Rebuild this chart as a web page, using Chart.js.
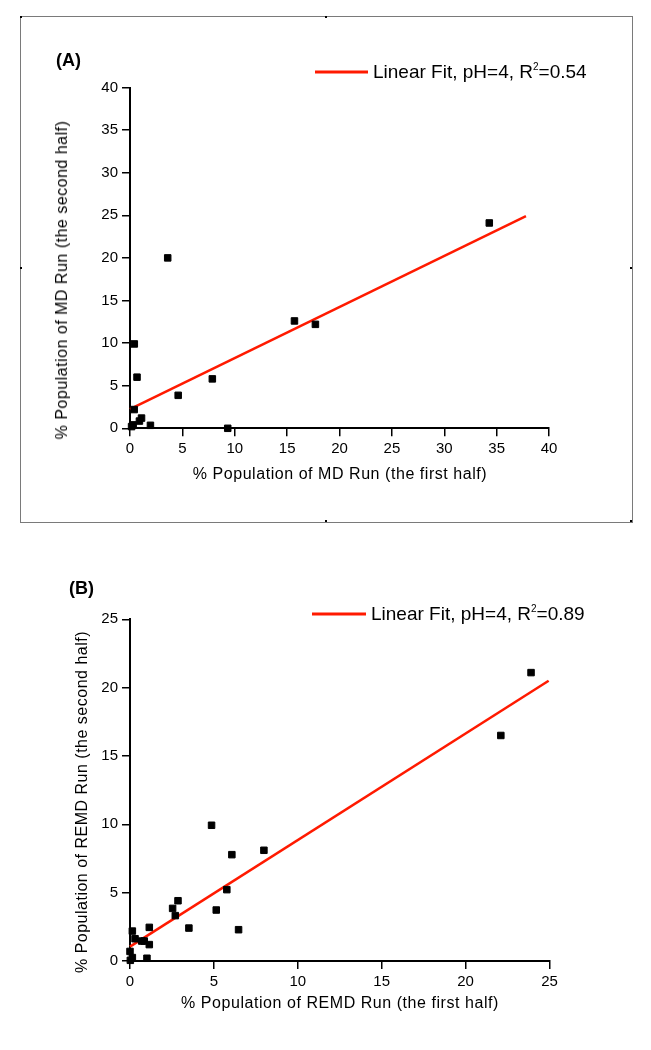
<!DOCTYPE html>
<html>
<head>
<meta charset="utf-8">
<script src="https://cdn.jsdelivr.net/npm/chart.js@4.4.1/dist/chart.umd.min.js"></script>
<style>
  html, body { margin: 0; padding: 0; background: #fff; }
  body { width: 651px; height: 1050px; position: relative; overflow: hidden; font-family: "Liberation Sans", Arial, sans-serif; color: #000; }
  .panel { position: absolute; left: 0; width: 651px; }
  canvas { position: absolute; left: 0; top: 0; }
  .lbl { position: absolute; white-space: nowrap; }
  .tag { font-weight: bold; font-size: 18px; transform: translateY(-50%); }
  .xt { font-size: 16px; letter-spacing: 0.55px; transform: translate(-50%, -50%); }
  .yt { font-size: 16px; letter-spacing: 0.5px; transform: translate(-50%, -50%) rotate(-90deg); }
  .leg { transform: translateY(-50%); font-family: "Liberation Sans Narrow", "Arial Narrow", sans-serif; font-size: 19px; }
  .leg sup { font-size: 10px; vertical-align: 8px; line-height: 0; }
  .legline { position: absolute; height: 3px; background: #ff1a00; transform: translateY(-50%); }
  .frame { position: absolute; left: 20px; top: 16px; width: 611px; height: 505px; border: 1px solid #7a7a7a; }
  .dot { position: absolute; width: 2px; height: 2px; background: #000; }
</style>
</head>
<body>

<div class="frame"></div>
<div class="dot" style="left:20px;top:16px"></div>
<div class="dot" style="left:630px;top:520px"></div>
<div class="dot" style="left:325px;top:16px"></div>
<div class="dot" style="left:325px;top:520px"></div>
<div class="dot" style="left:20px;top:267px"></div>
<div class="dot" style="left:630px;top:267px"></div>

<div class="panel" style="top:0;height:530px">
  <canvas id="chartA" width="651" height="530"></canvas>
</div>
<div class="panel" style="top:530px;height:520px">
  <canvas id="chartB" width="651" height="520"></canvas>
</div>

<div class="lbl tag" style="left:56px;top:60px">(A)</div>
<div class="legline" style="left:315px;top:72px;width:53px"></div>
<div class="lbl leg" style="left:373px;top:72px">Linear Fit, pH=4, R<sup>2</sup>=0.54</div>
<div class="lbl yt" style="left:62px;top:280px">% Population of MD Run (the second half)</div>
<div class="lbl xt" style="left:340px;top:474px">% Population of MD Run (the first half)</div>

<div class="lbl tag" style="left:69px;top:588px">(B)</div>
<div class="legline" style="left:312px;top:614px;width:54px"></div>
<div class="lbl leg" style="left:371px;top:614px">Linear Fit, pH=4, R<sup>2</sup>=0.89</div>
<div class="lbl yt" style="left:82px;top:802px">% Population of REMD Run (the second half)</div>
<div class="lbl xt" style="left:340px;top:1003px">% Population of REMD Run (the first half)</div>

<script>
// panel A: MD run, first half vs second half (%)
const mdFirst  = [0.15, 0.3, 0.4, 0.9, 1.1, 1.95, 0.41, 0.67, 3.6, 4.6, 7.86, 9.33, 15.7, 17.7, 34.3];
const mdSecond = [0.2, 0.4, 2.2, 0.85, 1.2, 0.35, 9.9, 6.0, 20.0, 3.87, 5.8, 0.0, 12.6, 12.2, 24.1];
const fitAX = [0, 37.8];
const fitAY = [2.26, 24.9];

// panel B: REMD run
const remdFirst  = [4.86, 6.07, 7.98, 5.77, 5.14, 6.47, 2.86, 2.54, 2.7, 3.51, 1.15, 1.15, 1.01, 0.14, 0.3, 0.7, 0.85, 0.14, 0.0, 0.02, 22.1, 23.9];
const remdSecond = [9.93, 7.78, 8.1, 5.22, 3.73, 2.29, 4.41, 3.85, 3.32, 2.41, 2.46, 1.2, 0.2, 2.19, 1.63, 1.46, 1.46, 0.25, 0.7, 0.05, 16.5, 21.1];
const fitBX = [0, 24.95];
const fitBY = [1.05, 20.5];

const ticksA = [0, 5, 10, 15, 20, 25, 30, 35, 40];
const ticksB = [0, 5, 10, 15, 20, 25];

function pts(xs, ys) {
  return xs.map((x, i) => ({ x: x, y: ys[i] }));
}

function axis(max, ticks, fit) {
  return {
    type: 'linear',
    min: 0,
    max: max,
    afterBuildTicks: (s) => { s.ticks = ticks.map(v => ({ value: v })); },
    afterFit: fit,
    border: { display: true, color: '#000', width: 2 },
    grid: { drawOnChartArea: false, drawTicks: true, tickLength: 8, color: '#000', lineWidth: 1.5 },
    ticks: { color: '#000', padding: 4, font: { family: 'Liberation Sans', size: 15 } }
  };
}

function makeChart(id, xs, ys, fx, fy, max, ticks, pad, xHeight, label) {
  return new Chart(document.getElementById(id).getContext('2d'), {
    type: 'scatter',
    data: {
      datasets: [{
        label: 'data',
        data: pts(xs, ys),
        pointStyle: 'rect',
        pointRadius: 4.6,
        backgroundColor: '#000',
        borderColor: '#000',
        borderWidth: 1,
        order: 0
      }, {
        label: label,
        data: pts(fx, fy),
        showLine: true,
        borderColor: '#ff1a00',
        borderWidth: 2.5,
        pointRadius: 0,
        order: 1
      }]
    },
    options: {
      responsive: false,
      animation: false,
      devicePixelRatio: 1,
      clip: false,
      layout: { padding: pad },
      plugins: { legend: { display: false }, tooltip: { enabled: false } },
      scales: {
        x: axis(max, ticks, (s) => { s.height = xHeight; }),
        y: axis(max, ticks, (s) => { s.width = 130; })
      }
    }
  });
}

makeChart('chartA', mdFirst, mdSecond, fitAX, fitAY, 40, ticksA,
  { top: 87.5, right: 102, bottom: 0, left: 0 }, 101.7, 'Linear Fit, pH=4, R²=0.54');
makeChart('chartB', remdFirst, remdSecond, fitBX, fitBY, 25, ticksB,
  { top: 89.3, right: 101.5, bottom: 0, left: 0 }, 89, 'Linear Fit, pH=4, R²=0.89');
</script>
</body>
</html>
